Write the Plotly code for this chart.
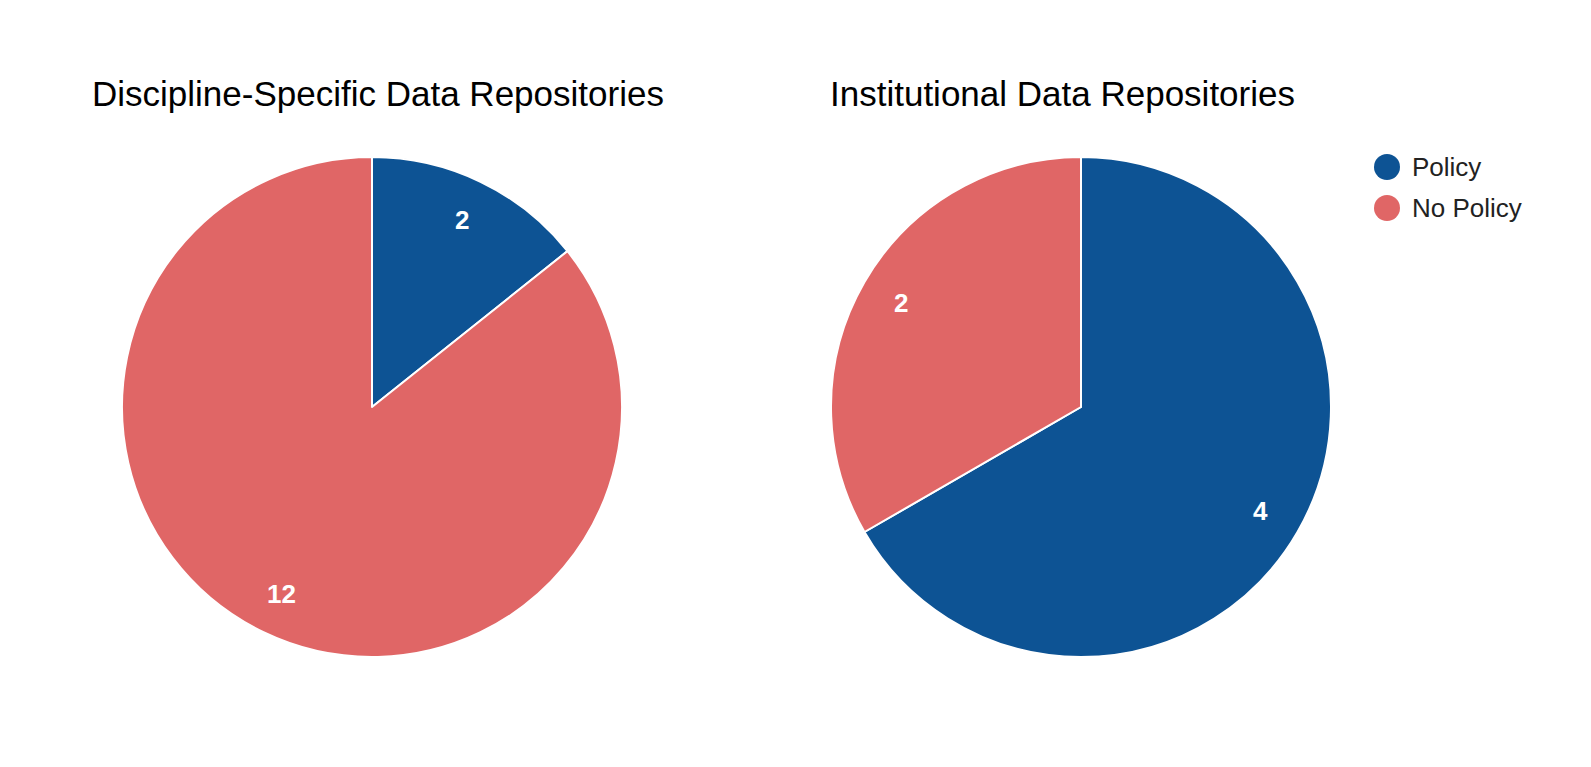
import math
import plotly.graph_objects as go

labels = ["Policy", "No Policy"]
colors = ["#0d5394", "#e06666"]
titles = ["Discipline-Specific Data Repositories", "Institutional Data Repositories"]
discipline_values = [2, 12]
institutional_values = [4, 2]

W, H = 1591, 767
FONT = "Liberation Sans, Arial, sans-serif"
R = 250
centers = [(364, 399), (1073, 399)]
title_x = [370, 1054]

def dom(cx, cy, r):
    return dict(x=[(cx - r) / W, (cx + r) / W], y=[(H - cy - r) / H, (H - cy + r) / H])

fig = go.Figure()
annotations = []
for vals, (cx, cy) in zip([discipline_values, institutional_values], centers):
    fig.add_trace(go.Pie(
        labels=labels, values=vals, sort=False, direction="clockwise", rotation=0,
        marker=dict(colors=colors, line=dict(color="white", width=2)),
        textinfo="none", domain=dom(cx, cy, R), showlegend=False,
        hoverinfo="label+value",
    ))
    # value labels placed along each slice's bisector
    total = sum(vals)
    cum = 0
    for v in vals:
        ang = 2 * math.pi * (cum + v / 2) / total
        cum += v
        px = cx + 0.83 * R * math.sin(ang)
        py = cy - 0.83 * R * math.cos(ang)
        annotations.append(dict(text=str(v), x=px / W, y=1 - py / H, xref="paper", yref="paper",
                                showarrow=False, xanchor="center", yanchor="middle",
                                font=dict(size=26, color="white", family=FONT, weight="bold")))

for t, tx in zip(titles, title_x):
    annotations.append(dict(text=t, x=tx / W, y=1 - 86 / H, xref="paper", yref="paper",
                            showarrow=False, font=dict(size=35, color="#000", family=FONT),
                            xanchor="center", yanchor="middle"))
shapes = []
for i, (lab, col) in enumerate(zip(labels, colors)):
    cy = 159 + i * 41
    yp = 1 - cy / H
    shapes.append(dict(type="circle", xref="paper", yref="paper", xsizemode="pixel", ysizemode="pixel",
                       xanchor=1379 / W, yanchor=yp, x0=-13, x1=13, y0=-13, y1=13,
                       fillcolor=col, line=dict(width=0)))
    annotations.append(dict(text=lab, x=1402 / W, y=yp, xref="paper", yref="paper", showarrow=False,
                            xanchor="left", yanchor="middle", font=dict(size=26, color="#222", family=FONT)))

fig.update_layout(width=W, height=H, margin=dict(l=0, r=0, t=0, b=0),
                  paper_bgcolor="white", plot_bgcolor="white",
                  annotations=annotations, shapes=shapes, showlegend=False,
                  font=dict(family=FONT))
fig.write_html("out.html")
